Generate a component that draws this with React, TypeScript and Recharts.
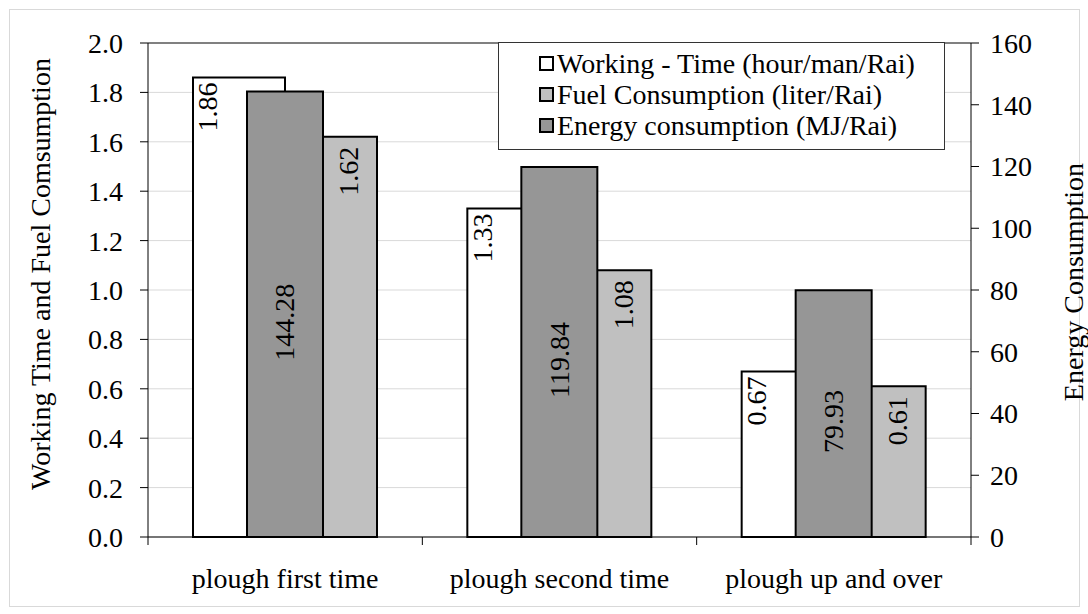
import {
  Bar,
  BarChart,
  CartesianGrid,
  Label,
  Legend,
  ReferenceLine,
  XAxis,
  YAxis,
} from "recharts";

const categories = ["plough first time", "plough second time", "plough up and over"];
const workingTime = [1.86, 1.33, 0.67];
const fuelConsumption = [1.62, 1.08, 0.61];
const energyConsumption = [144.28, 119.84, 79.93];
const leftTicks = [0, 0.2, 0.4, 0.6, 0.8, 1.0, 1.2, 1.4, 1.6, 1.8, 2.0];
const rightTicks = [0, 20, 40, 60, 80, 100, 120, 140, 160];

const legendItems = [
  { name: "Working - Time (hour/man/Rai)", color: "#ffffff" },
  { name: "Fuel Consumption (liter/Rai)", color: "#c0c0c0" },
  { name: "Energy consumption (MJ/Rai)", color: "#969696" },
];

const data = categories.map((name, i) => ({
  name,
  working: workingTime[i],
  fuel: fuelConsumption[i],
  energy: energyConsumption[i],
}));

const FONT = "'Liberation Serif', 'Times New Roman', serif";
const W = 1088;
const H = 614;
const LEFT_W = 148;
const RIGHT_W = 117;
const TOP = 43;
const BAND = (W - LEFT_W - RIGHT_W) / categories.length;

const textStyle = { fontFamily: FONT, fontSize: 28, fill: "#000" };

const CategoryTick = (props: any) => {
  const { x, y, payload, index } = props;
  return (
    <g>
      <line x1={x - BAND / 2} x2={x - BAND / 2} y1={y} y2={y + 8} stroke="#000" />
      {index === categories.length - 1 && (
        <line x1={x + BAND / 2} x2={x + BAND / 2} y1={y} y2={y + 8} stroke="#000" />
      )}
      <text x={x} y={y + 51} textAnchor="middle" {...textStyle}>
        {payload.value}
      </text>
    </g>
  );
};

const vertText = (cx: number, top: number, anchor: string, value: string) => (
  <text
    x={cx}
    y={top}
    transform={`rotate(-90 ${cx} ${top})`}
    textAnchor={anchor as any}
    dominantBaseline="central"
    {...textStyle}
  >
    {value}
  </text>
);

const workingLabel = (p: any) => vertText(p.x + 15, p.y + 5, "end", Number(p.value).toFixed(2));
const fuelLabel = (p: any) =>
  vertText(p.x + p.width - 28, p.y + 10, "end", Number(p.value).toFixed(2));
const energyLabel = (p: any) =>
  vertText(p.x + p.width / 2, p.y + p.height / 2 + 8, "middle", Number(p.value).toFixed(2));

const axisTitle = (text: string, dx: number, dy: number) => (props: any) => {
  const vb = props.viewBox || {};
  const cx = (vb.x ?? 0) + dx;
  const cy = (vb.y ?? TOP) + (vb.height ?? 494) / 2 + dy;
  return (
    <text
      x={cx}
      y={cy}
      transform={`rotate(-90 ${cx} ${cy})`}
      textAnchor="middle"
      dominantBaseline="central"
      {...textStyle}
    >
      {text}
    </text>
  );
};

const renderLegend = () => (
  <div
    style={{
      width: 447,
      height: 108,
      border: "1px solid #333",
      background: "#fff",
      boxSizing: "border-box",
      padding: "5px 0 0 40px",
      fontFamily: FONT,
      fontSize: 28,
      color: "#000",
    }}
  >
    {legendItems.map((item) => (
      <div key={item.name} style={{ display: "flex", alignItems: "center", height: 31 }}>
        <span
          style={{
            display: "inline-block",
            width: 11,
            height: 11,
            border: "2px solid #000",
            background: item.color,
            marginRight: 3,
          }}
        />
        <span style={{ lineHeight: "31px", whiteSpace: "nowrap" }}>{item.name}</span>
      </div>
    ))}
  </div>
);

export default function App() {
  return (
    <div style={{ position: "absolute", left: 0, top: 0, width: W, height: H, background: "#fff" }}>
      <div
        style={{
          position: "absolute",
          left: 9,
          top: 9,
          width: 1069,
          height: 596,
          border: "1px solid #d9d9d9",
        }}
      />
      <BarChart
        width={W}
        height={H}
        data={data}
        barGap={0}
        margin={{ top: TOP, right: 0, bottom: 0, left: 0 }}
        style={{ position: "absolute", left: 0, top: 0 }}
      >
        <CartesianGrid
          xAxisId="main"
          yAxisId="left"
          vertical={false}
          stroke="#d9d9d9"
          horizontalValues={leftTicks}
        />
        <XAxis
          xAxisId="main"
          dataKey="name"
          height={H - 537}
          tickLine={false}
          tickSize={0}
          tickMargin={0}
          stroke="#000"
          tick={<CategoryTick />}
          interval={0}
        />
        <XAxis xAxisId="sec" dataKey="name" hide />
        <YAxis
          yAxisId="left"
          width={LEFT_W}
          domain={[0, 2]}
          ticks={leftTicks}
          tickFormatter={(v: number) => v.toFixed(1)}
          tickSize={8}
          tickMargin={17}
          stroke="#000"
          tick={{ ...textStyle }}
          interval={0}
        >
          <Label content={axisTitle("Working Time and Fuel Comsumption", 40, -16)} />
        </YAxis>
        <YAxis
          yAxisId="right"
          orientation="right"
          width={RIGHT_W}
          domain={[0, 160]}
          ticks={rightTicks}
          tickSize={8}
          tickMargin={11}
          stroke="#000"
          tick={{ ...textStyle }}
          interval={0}
        >
          <Label content={axisTitle("Energy Consumption", 102, -8)} />
        </YAxis>
        <ReferenceLine yAxisId="left" xAxisId="main" y={2} stroke="#808080" strokeWidth={2} />
        <Legend
          layout="vertical"
          align="center"
          verticalAlign="middle"
          content={renderLegend}
          wrapperStyle={{ left: 498, top: 42, width: 447 }}
        />
        <Bar
          xAxisId="main"
          yAxisId="left"
          dataKey="working"
          name={legendItems[0].name}
          fill="#ffffff"
          stroke="#000"
          strokeWidth={2}
          barSize={92}
          label={workingLabel}
          isAnimationActive={false}
        />
        <Bar
          xAxisId="main"
          yAxisId="left"
          dataKey="fuel"
          name={legendItems[1].name}
          fill="#c0c0c0"
          stroke="#000"
          strokeWidth={2}
          barSize={92}
          label={fuelLabel}
          isAnimationActive={false}
        />
        <Bar
          xAxisId="sec"
          yAxisId="right"
          dataKey="energy"
          name={legendItems[2].name}
          fill="#969696"
          stroke="#000"
          strokeWidth={2}
          barSize={76}
          label={energyLabel}
          isAnimationActive={false}
        />
      </BarChart>
    </div>
  );
}
